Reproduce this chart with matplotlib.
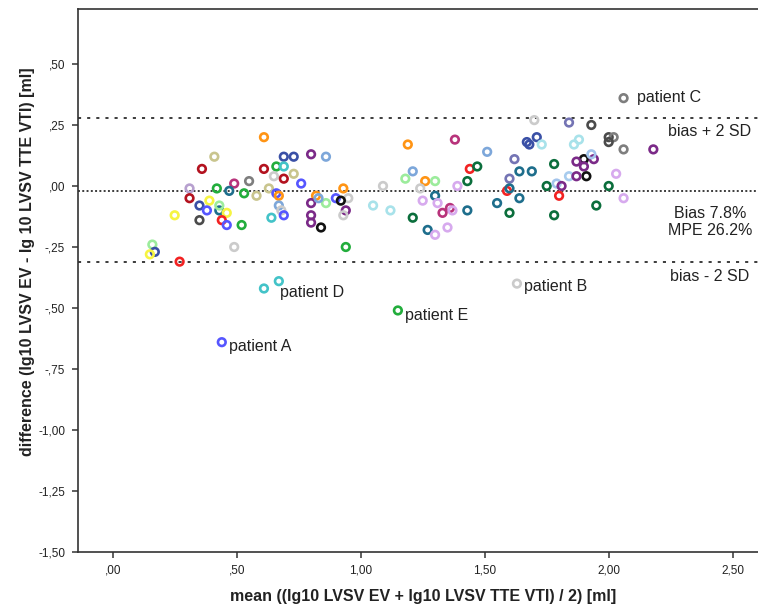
import matplotlib
matplotlib.use("Agg")
import matplotlib.pyplot as plt
from matplotlib.ticker import FixedLocator, FuncFormatter

plt.rcParams["font.family"] = ["Liberation Sans", "DejaVu Sans"]

# ── data ─────────────────────────────────────────────────────────────────────
mean_vals = [
    0.61, 0.41, 0.36, 0.61, 0.69, 0.66, 0.69, 0.65, 0.69, 0.55,
    0.49, 0.31, 0.42, 0.47, 0.53, 0.58, 0.63, 0.66, 0.67, 0.31,
    0.39, 0.35, 0.38, 0.43, 0.46, 0.43, 0.67, 0.68, 0.69, 0.64,
    0.25, 0.35, 0.44, 0.46, 0.52, 0.49, 0.16, 0.17, 0.15, 0.27,
    0.61, 0.67, 0.73, 0.80, 0.86, 0.73, 0.76, 1.19, 1.38, 1.21,
    1.18, 1.26, 1.30, 1.09, 1.24, 1.39, 1.43, 1.44, 1.47, 0.93,
    0.82, 0.95, 0.90, 0.92, 0.86, 0.80, 0.83, 0.94, 0.93, 0.80,
    0.80, 0.84, 0.94, 1.05, 1.12, 1.21, 1.30, 1.25, 1.31, 1.36,
    1.33, 1.37, 1.43, 1.27, 1.30, 1.35, 2.06, 1.70, 1.84, 1.93,
    1.71, 1.67, 1.68, 1.73, 1.51, 1.62, 2.00, 2.02, 2.00, 2.06,
    1.88, 1.86, 2.18, 1.64, 1.69, 1.78, 1.90, 1.87, 1.90, 1.94,
    1.93, 1.91, 1.84, 1.87, 2.03, 1.60, 1.75, 1.79, 1.81, 2.00,
    1.59, 1.60, 1.80, 1.64, 2.06, 1.55, 1.95, 1.60, 1.78, 1.63,
    0.44, 1.15,
]
diff_vals = [
    0.20, 0.12, 0.07, 0.07, 0.12, 0.08, 0.08, 0.04, 0.03, 0.02,
    0.01, -0.01, -0.01, -0.02, -0.03, -0.04, -0.01, -0.03, -0.04, -0.05,
    -0.06, -0.08, -0.10, -0.10, -0.11, -0.08, -0.08, -0.10, -0.12, -0.13,
    -0.12, -0.14, -0.14, -0.16, -0.16, -0.25, -0.24, -0.27, -0.28, -0.31,
    -0.42, -0.39, 0.12, 0.13, 0.12, 0.05, 0.01, 0.17, 0.19, 0.06,
    0.03, 0.02, 0.02, 0.00, -0.01, 0.00, 0.02, 0.07, 0.08, -0.01,
    -0.04, -0.05, -0.05, -0.06, -0.07, -0.07, -0.05, -0.10, -0.12, -0.12,
    -0.15, -0.17, -0.25, -0.08, -0.10, -0.13, -0.04, -0.06, -0.07, -0.09,
    -0.11, -0.10, -0.10, -0.18, -0.20, -0.17, 0.36, 0.27, 0.26, 0.25,
    0.20, 0.18, 0.17, 0.17, 0.14, 0.11, 0.20, 0.20, 0.18, 0.15,
    0.19, 0.17, 0.15, 0.06, 0.06, 0.09, 0.11, 0.10, 0.08, 0.11,
    0.13, 0.04, 0.04, 0.04, 0.05, 0.03, 0.00, 0.01, 0.00, 0.00,
    -0.02, -0.01, -0.04, -0.05, -0.05, -0.07, -0.08, -0.11, -0.12, -0.40,
    -0.64, -0.51,
]
patient_group = [
    "orange", "khaki", "darkred", "darkred", "navy", "green", "turq", "ltgray", "darkred", "gray",
    "magenta", "fadedlav", "green", "darkteal", "green", "khaki", "khaki", "blue", "orange", "darkred",
    "yellow", "navy", "blue", "darkteal", "yellow", "ltgreen", "steel", "ltgray", "blue", "turq",
    "yellow", "dkgray", "red", "blue", "green", "ltgray", "ltgreen", "navy", "yellow", "red",
    "turq", "turq", "navy", "purple", "steel", "khaki", "blue", "orange", "magenta", "steel",
    "ltgreen", "orange", "ltgreen", "ltgray", "ltgray", "lavender", "dkgreen", "red", "dkgreen", "orange",
    "orange", "ltgray", "blue", "black", "ltgreen", "purple", "steel", "purple", "ltgray", "purple",
    "purple", "black", "green", "ltcyan", "ltcyan", "dkgreen", "darkteal", "lavender", "lavender", "magenta",
    "magenta", "lavender", "darkteal", "darkteal", "lavender", "lavender", "gray", "ltgray", "slate", "dkgray",
    "navy", "navy", "navy", "ltcyan", "steel", "slate", "dkgray", "gray", "dkgray", "gray",
    "ltcyan", "ltcyan", "purple", "darkteal", "darkteal", "dkgreen", "black", "purple", "purple", "purple",
    "ltsteel", "black", "ltblue", "purple", "lavender", "slate", "dkgreen", "ltsteel", "purple", "dkgreen",
    "red", "darkteal", "red", "darkteal", "lavender", "darkteal", "dkgreen", "dkgreen", "dkgreen", "ltgray",
    "blue", "green",
]
group_colors = {
    "orange": "#FF9414", "khaki": "#C9C58E", "darkred": "#B3121F", "navy": "#3A50A6",
    "green": "#22AD3C", "turq": "#43C3C8", "ltgray": "#CBCBCB", "gray": "#7E7E7E",
    "dkgray": "#4B4B4B", "magenta": "#B8337B", "fadedlav": "#B7A0CF", "darkteal": "#1E6E8C",
    "blue": "#5656FF", "yellow": "#F6F442", "ltgreen": "#9CEC9C", "steel": "#7DA7DA",
    "red": "#F22222", "black": "#111111", "dkgreen": "#0B6E3C", "ltcyan": "#A8E2EA",
    "purple": "#7B2A88", "lavender": "#D7AAEE", "slate": "#7474B4", "ltsteel": "#A3C4EC",
    "ltblue": "#A8CCEE",
}

# labelled patients: index into the arrays above
labelled_idx = [130, 129, 86, 41, 131]
labelled_txt = ["patient A", "patient B", "patient C", "patient D", "patient E"]
label_offset_px = [(7, -4), (7, -3), (13, 1), (1, -11), (7, -5)]

bias = -0.020
upper_loa = 0.277
lower_loa = -0.310

x_ticks = [0.0, 0.5, 1.0, 1.5, 2.0, 2.5]
y_ticks = [0.5, 0.25, 0.0, -0.25, -0.5, -0.75, -1.0, -1.25, -1.5]


def spss_fmt(v, pos=None):
    s = f"{v:.2f}".replace(".", ",")
    if s.startswith("0,"):
        s = s[1:]
    elif s.startswith("-0,"):
        s = "-" + s[2:]
    return s


fig = plt.figure(figsize=(7.58, 6.08), dpi=100)
ax = fig.add_axes([0.1025, 0.0916, 0.8975, 0.8931])
ax.set_xlim(-0.141, 2.602)
ax.set_ylim(-1.501, 0.724)

cols = [group_colors[g] for g in patient_group]
ax.scatter(mean_vals, diff_vals, s=30, facecolors="none", edgecolors=cols,
           linewidths=1.9, zorder=3)

line_kw = dict(color="#3c3c3c", lw=1.4, zorder=2)
ax.axhline(upper_loa, dashes=(1.6, 3.1), **line_kw)
ax.axhline(bias, dashes=(1.0, 1.2), **line_kw)
ax.axhline(lower_loa, dashes=(1.6, 3.1), **line_kw)

for i, txt, off in zip(labelled_idx, labelled_txt, label_offset_px):
    ax.annotate(txt, (mean_vals[i], diff_vals[i]), xytext=off,
                textcoords="offset pixels", ha="left", va="center",
                fontsize=11.5, color="#222222", zorder=4)

# text at the right edge
ax.text(2.408, 0.225, "bias + 2 SD", ha="center", va="center", fontsize=11.5, color="#222222")
ax.text(2.41, -0.111, "Bias 7.8%", ha="center", va="center", fontsize=11.5, color="#222222")
ax.text(2.41, -0.184, "MPE 26.2%", ha="center", va="center", fontsize=11.5, color="#222222")
ax.text(2.408, -0.372, "bias - 2 SD", ha="center", va="center", fontsize=11.5, color="#222222")

ax.xaxis.set_major_locator(FixedLocator(x_ticks))
ax.yaxis.set_major_locator(FixedLocator(y_ticks))
ax.xaxis.set_major_formatter(FuncFormatter(spss_fmt))
ax.yaxis.set_major_formatter(FuncFormatter(spss_fmt))
ax.tick_params(direction="out", length=4, width=1.1, color="#333333",
               labelsize=8.5, labelcolor="#222222", pad=5)

for side in ["left", "bottom", "top"]:
    ax.spines[side].set_linewidth(1.2)
    ax.spines[side].set_color("#333333")
ax.spines["right"].set_visible(False)

ax.set_xlabel("mean ((lg10 LVSV EV + lg10 LVSV TTE VTI) / 2) [ml]",
              fontsize=11.5, fontweight="bold", color="#222222")
ax.set_ylabel("difference (lg10 LVSV EV - lg 10 LVSV TTE VTI) [ml]",
              fontsize=11.5, fontweight="bold", color="#222222")
ax.xaxis.set_label_coords(0.5076, -0.068)
ax.yaxis.set_label_coords(-0.063, 0.535)

fig.savefig("out.png", dpi=100)
